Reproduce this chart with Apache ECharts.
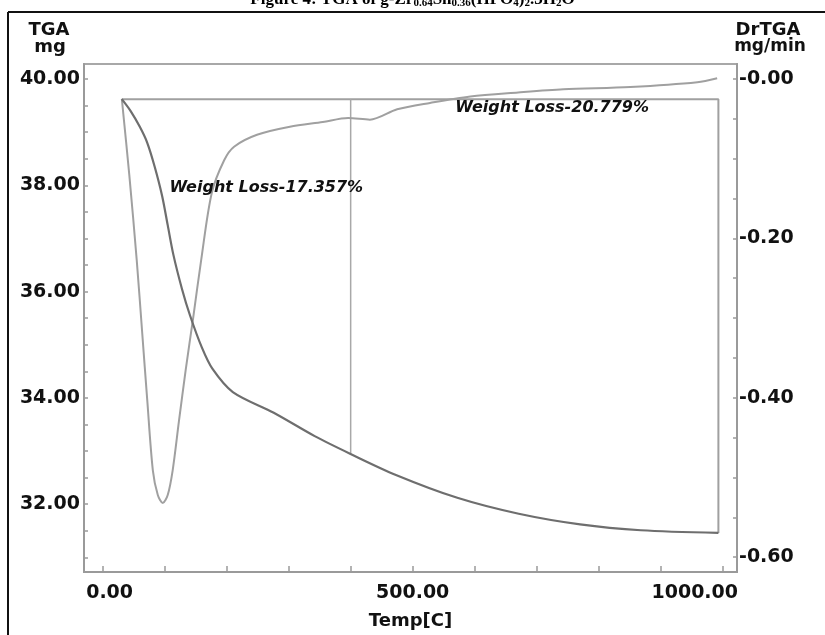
<!DOCTYPE html>
<html>
<head>
<meta charset="utf-8">
<script src="https://cdn.jsdelivr.net/npm/echarts@6/dist/echarts.min.js"></script>
<style>
html,body{margin:0;padding:0;background:#fff;}
#c{width:825px;height:635px;}
</style>
</head>
<body>
<div id="c"></div>
<script>
// ---- data ----
var tgaTemp = [31, 45, 60, 72, 84, 96, 105, 114, 128, 141, 160, 177, 210, 276, 342, 399, 473, 572, 671, 770, 868, 993];
var tgaMass = [39.62, 39.40, 39.10, 38.80, 38.35, 37.80, 37.25, 36.70, 36.05, 35.55, 34.95, 34.55, 34.11, 33.72, 33.28, 32.95, 32.55, 32.12, 31.82, 31.62, 31.51, 31.46];

var dtgTemp = [31, 43, 55, 64, 72, 81, 89, 97, 105, 113, 123, 134, 146, 159, 176, 196, 212, 249, 302, 355, 396, 431, 475, 528, 593, 670, 743, 851, 959, 991];
var dtgRate = [-0.025, -0.12, -0.227, -0.32, -0.403, -0.491, -0.522, -0.532, -0.522, -0.491, -0.43, -0.365, -0.30, -0.227, -0.143, -0.102, -0.085, -0.070, -0.060, -0.054, -0.049, -0.051, -0.038, -0.030, -0.022, -0.017, -0.013, -0.010, -0.004, 0.001];

var stepTemp = [31, 993, 993];
var stepMass = [39.62, 39.62, 31.46];
var divTemp = [400, 400];
var divMass = [39.62, 32.95];

var xTicks = [0, 100, 200, 300, 400, 500, 600, 700, 800, 900, 1000];
var xLabels = [0, 500, 1000];
var yLeftTicks = [31, 31.5, 32, 32.5, 33, 33.5, 34, 34.5, 35, 35.5, 36, 36.5, 37, 37.5, 38, 38.5, 39, 39.5, 40];
var yLeftLabels = [32, 34, 36, 38, 40];
var yRightTicks = [-0.6, -0.55, -0.5, -0.45, -0.4, -0.35, -0.3, -0.25, -0.2, -0.15, -0.1, -0.05, 0];
var yRightLabels = [-0.6, -0.4, -0.2, 0];

var annotations = [
  {text: 'Weight Loss-17.357%', temp: 264, mass: 37.95},
  {text: 'Weight Loss-20.779%', temp: 725, mass: 39.45}
];

function zip(a, b) { return a.map(function (v, i) { return [v, b[i]]; }); }

var LBL = {fontFamily: 'DejaVu Sans', fontWeight: 'bold', fontSize: 19, color: '#111'};
var AX = '#9a9a9a';

var chart = echarts.init(document.getElementById('c'), null, {renderer: 'canvas'});
chart.setOption({
  backgroundColor: '#fff',
  animation: false,
  grid: {left: 84, right: 88, top: 64, bottom: 63, show: true, borderColor: '#a8a8a8', borderWidth: 2, backgroundColor: 'transparent'},
  xAxis: {
    type: 'value', min: -30, max: 1023,
    name: 'Temp[C]', nameLocation: 'middle', nameGap: 40,
    nameTextStyle: {fontFamily: 'DejaVu Sans', fontWeight: 'bold', fontSize: 18, color: '#111'},
    axisLine: {show: true, onZero: false, lineStyle: {color: AX, width: 2}},
    axisTick: {show: true, inside: true, length: 6, customValues: xTicks, lineStyle: {color: AX, width: 1.5}},
    axisLabel: {
      show: true, margin: 12, customValues: xLabels,
      formatter: function (v) {
        if (v === 0) return '{l|0.00}';
        if (v === 1000) return '{r|1000.00}';
        return '{m|' + v.toFixed(2) + '}';
      },
      rich: {
        l: Object.assign({padding: [0, 0, 0, 14]}, LBL),
        m: Object.assign({}, LBL),
        r: Object.assign({padding: [0, 56, 0, 0]}, LBL)
      }
    },
    splitLine: {show: false}
  },
  yAxis: [
    {
      type: 'value', min: 30.724, max: 40.282, position: 'left',
      axisLine: {show: true, onZero: false, lineStyle: {color: AX, width: 2}},
      axisTick: {show: true, inside: true, length: 4, customValues: yLeftTicks, lineStyle: {color: AX, width: 1.5}},
      axisLabel: Object.assign({show: true, margin: 4, customValues: yLeftLabels,
        formatter: function (v) { return v.toFixed(2); }}, LBL),
      splitLine: {show: false}
    },
    {
      type: 'value', min: -0.6186, max: 0.0188, position: 'right',
      axisLine: {show: true, onZero: false, lineStyle: {color: AX, width: 2}},
      axisTick: {show: true, inside: true, length: 4, customValues: yRightTicks, lineStyle: {color: AX, width: 1.5}},
      axisLabel: Object.assign({show: true, margin: 2, customValues: yRightLabels,
        formatter: function (v) { return '-' + Math.abs(v).toFixed(2); }}, LBL),
      splitLine: {show: false}
    }
  ],
  series: [
    {
      name: 'DrTGA', type: 'line', yAxisIndex: 1, data: zip(dtgTemp, dtgRate),
      symbol: 'none', smooth: 0.3, lineStyle: {color: '#a0a0a0', width: 2}, z: 2
    },
    {
      name: 'TGA', type: 'line', yAxisIndex: 0, data: zip(tgaTemp, tgaMass),
      symbol: 'none', smooth: 0.3, lineStyle: {color: '#6e6e6e', width: 2.2}, z: 3,
      markPoint: {
        symbol: 'circle', symbolSize: 0,
        label: {show: true, position: 'inside', formatter: '{b}', fontFamily: 'DejaVu Sans', fontWeight: 'bold', fontStyle: 'italic', fontSize: 16, color: '#111'},
        data: annotations.map(function (a) { return {name: a.text, coord: [a.temp, a.mass]}; })
      }
    },
    {
      name: 'step', type: 'line', yAxisIndex: 0, data: zip(stepTemp, stepMass),
      symbol: 'none', lineStyle: {color: '#a0a0a0', width: 2}, z: 1
    },
    {
      name: 'divider', type: 'line', yAxisIndex: 0, data: zip(divTemp, divMass),
      symbol: 'none', lineStyle: {color: '#a8a8a8', width: 1.5}, z: 1
    }
  ],
  graphic: [
    {type: 'line', shape: {x1: 8, y1: 12, x2: 825, y2: 12}, style: {stroke: '#111', lineWidth: 2}},
    {type: 'line', shape: {x1: 8, y1: 12, x2: 8, y2: 635}, style: {stroke: '#111', lineWidth: 2}},
    {type: 'text', left: 'center', top: -9, style: {
      text: '{b|Figure 4: TGA of g-Zr}{s|0.64}{b|Sn}{s|0.36}{b|(HPO}{s|4}{b|)}{s|2}{b|.3H}{s|2}{b|O}',
      rich: {
        b: {fontFamily: 'Liberation Serif', fontWeight: 'bold', fontSize: 17, color: '#111'},
        s: {fontFamily: 'Liberation Serif', fontWeight: 'bold', fontSize: 11, color: '#111', padding: [7, 0, 0, 0]}
      }}},
    {type: 'text', x: 49, y: 30, style: {text: 'TGA', fontFamily: 'DejaVu Sans', fontWeight: 'bold', fontSize: 18, fill: '#111', align: 'center', verticalAlign: 'middle'}},
    {type: 'text', x: 50, y: 47, style: {text: 'mg', fontFamily: 'DejaVu Sans', fontWeight: 'bold', fontSize: 18, fill: '#111', align: 'center', verticalAlign: 'middle'}},
    {type: 'text', x: 768, y: 30, style: {text: 'DrTGA', fontFamily: 'DejaVu Sans', fontWeight: 'bold', fontSize: 18, fill: '#111', align: 'center', verticalAlign: 'middle'}},
    {type: 'text', x: 770, y: 47, style: {text: 'mg/min', fontFamily: 'DejaVu Sans', fontWeight: 'bold', fontSize: 17, fill: '#111', align: 'center', verticalAlign: 'middle'}}
  ]
});
</script>
</body>
</html>
